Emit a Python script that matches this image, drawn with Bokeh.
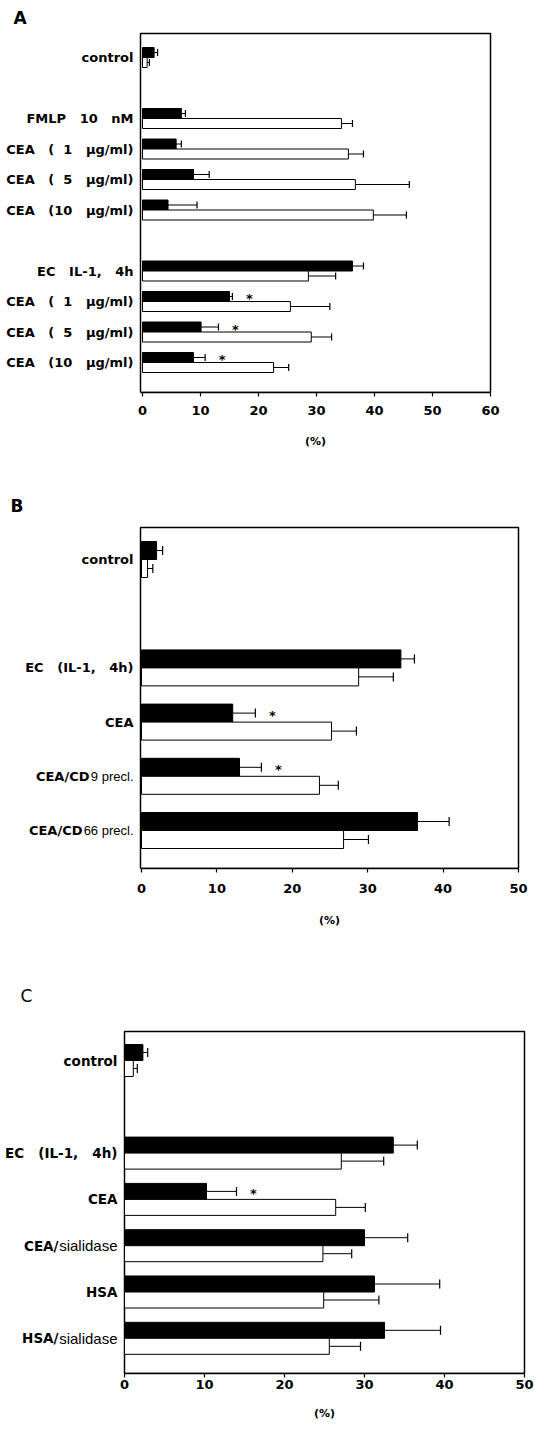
from bokeh.plotting import figure
from bokeh.models import Range1d, FixedTicker, ColumnDataSource, Whisker, TeeHead, LinearAxis
from bokeh.layouts import column
from bokeh.embed import file_html
from bokeh.resources import INLINE
from bokeh.core.properties import value

# ---------------- data ----------------
# Panel A (None = empty row)
a_rows_bold = ["control", None, "FMLP   10   nM", "CEA   (  1   µg/ml)", "CEA   (  5   µg/ml)",
               "CEA   (10   µg/ml)", None, "EC   IL-1,   4h", "CEA   (  1   µg/ml)",
               "CEA   (  5   µg/ml)", "CEA   (10   µg/ml)"]
a_rows_plain = ["", None, "", "", "", "", None, "", "", "", ""]
a_black = [2.0, 6.7, 5.8, 8.8, 4.4, 36.2, 15.0, 10.1, 8.8]
a_black_err = [2.6, 7.4, 6.7, 11.5, 9.4, 38.1, 15.5, 13.1, 10.8]
a_white = [0.8, 34.3, 35.5, 36.7, 39.8, 28.6, 25.5, 29.1, 22.6]
a_white_err = [1.2, 36.2, 38.1, 46.0, 45.5, 33.3, 32.3, 32.6, 25.2]
a_star = [False, False, False, False, False, False, True, True, True]
a_ticks = [0, 10, 20, 30, 40, 50, 60]

# Panel B
b_rows_bold = ["control", None, "EC   (IL-1,   4h)", "CEA", "CEA/CD", "CEA/CD"]
b_rows_plain = ["", None, "", "", "9 precl.", "66 precl."]
b_black = [2.0, 34.4, 12.1, 13.0, 36.6]
b_black_err = [2.8, 36.2, 15.1, 15.9, 40.8]
b_white = [0.8, 28.8, 25.2, 23.6, 26.8]
b_white_err = [1.5, 33.4, 28.5, 26.1, 30.1]
b_star = [False, False, True, True, False]
b_ticks = [0, 10, 20, 30, 40, 50]

# Panel C
c_rows_bold = ["control", None, "EC   (IL-1,   4h)", "CEA", "CEA/", "HSA", "HSA/"]
c_rows_plain = ["", None, "", "", "sialidase", "", "sialidase"]
c_black = [2.3, 33.6, 10.25, 30.0, 31.25, 32.5]
c_black_err = [2.9, 36.6, 14.0, 35.4, 39.4, 39.5]
c_white = [1.1, 27.1, 26.4, 24.8, 24.9, 25.6]
c_white_err = [1.6, 32.4, 30.1, 28.4, 31.8, 29.5]
c_star = [False, False, True, False, False, False]
c_ticks = [0, 10, 20, 30, 40, 50]

BOLD = "DejaVu Sans"
PLAIN = "Liberation Sans"
FRAME_RIGHT = 527  # px, common right edge of the drawing area
NB = lambda s: s.replace(" ", "\u00a0")  # keep the wide spacing of the original


def panel(letter, rows_bold, rows_plain, black, black_err, white, white_err, star, ticks,
          fig_h, box, zero_px, ppu, first_px, pitch, bar_px, cap,
          label_size, plain_size, plain_widths, letter_x, letter_style, letter_standoff,
          tick_standoff, pct_standoff):
    bl, br, bt, bb = box
    slots = [i for i, r in enumerate(rows_bold) if r is not None]
    xv = lambda px: (px - zero_px) / ppu
    yv = lambda py: (py - first_px) / pitch
    bar_h = bar_px / pitch

    p = figure(width=535, height=fig_h, output_backend="svg", toolbar_location=None,
               x_range=Range1d(xv(0), xv(FRAME_RIGHT)),
               y_range=Range1d(yv(bb), yv(bt - 3)),
               min_border_left=0, min_border_right=535 - FRAME_RIGHT,
               min_border_top=bt - 3, min_border_bottom=fig_h - bb)
    p.background_fill_color = "white"
    p.border_fill_color = "white"
    p.outline_line_color = None
    p.xgrid.visible = False
    p.ygrid.visible = False
    p.yaxis.visible = False

    ax = p.xaxis[0]
    ax.bounds = (xv(bl), xv(br))
    ax.ticker = FixedTicker(ticks=ticks)
    ax.major_tick_in = 0
    ax.major_tick_out = 4
    ax.minor_tick_in = 0
    ax.minor_tick_out = 0
    ax.axis_line_width = 1.5
    ax.axis_line_color = "black"
    ax.major_tick_line_width = 1.2
    ax.major_tick_line_color = "black"
    ax.major_label_text_font = BOLD
    ax.major_label_text_font_style = "bold"
    ax.major_label_text_font_size = "13px"
    ax.major_label_text_color = "black"
    ax.major_label_standoff = tick_standoff

    # "(%)" centred under the box, as a second axis row
    mid = (xv(bl) + xv(br)) / 2
    ax2 = LinearAxis(ticker=FixedTicker(ticks=[mid]), major_label_overrides={mid: "(%)"},
                     axis_line_color=None, major_tick_line_color=None, minor_tick_line_color=None,
                     major_tick_out=0, major_tick_in=0, minor_tick_out=0, minor_tick_in=0,
                     major_label_standoff=pct_standoff, major_label_text_font=BOLD,
                     major_label_text_font_style="bold", major_label_text_font_size="11px",
                     major_label_text_color="black")
    p.add_layout(ax2, "below")

    p.title.text = letter
    p.title.align = "left"
    p.title.offset = letter_x
    p.title.standoff = letter_standoff
    p.title.text_font = BOLD
    p.title.text_font_style = letter_style
    p.title.text_font_size = "17px"
    p.title.text_color = "black"

    # frame box
    p.quad(left=[xv(bl)], right=[xv(br)], top=[yv(bt)], bottom=[yv(bb)],
           fill_color=None, line_color="black", line_width=1.5)

    src = ColumnDataSource(dict(
        y_black=[s - bar_h / 2 for s in slots],
        y_white=[s + bar_h / 2 for s in slots],
        black=black, black_err=black_err, white=white, white_err=white_err,
    ))
    p.hbar(y="y_black", left=0, right="black", height=bar_h, source=src,
           fill_color="black", line_color="black", line_width=1)
    p.hbar(y="y_white", left=0, right="white", height=bar_h, source=src,
           fill_color="white", line_color="black", line_width=1)
    for base, lo, hi in (("y_black", "black", "black_err"), ("y_white", "white", "white_err")):
        p.add_layout(Whisker(source=src, base=base, lower=lo, upper=hi, dimension="width",
                             line_color="black", line_width=1, level="overlay",
                             lower_head=None,
                             upper_head=TeeHead(size=cap, line_color="black", line_width=1.2)))

    idx = [i for i, s in enumerate(star) if s]
    star_src = ColumnDataSource(dict(x=[black_err[i] for i in idx],
                                     y=[slots[i] - bar_h / 2 for i in idx],
                                     t=["*"] * len(idx)))
    p.text(x="x", y="y", text="t", source=star_src, x_offset=17, y_offset=2,
           text_align="center", text_baseline="middle", text_font=value(BOLD),
           text_font_style="bold", text_font_size="13px", text_color="black")

    # row labels, left of the box
    rows = [i for i, r in enumerate(rows_bold) if r is not None]
    bold_x_off, plain_rows = [], []
    for i in rows:
        pt = rows_plain[i]
        if pt:
            plain_rows.append(i)
            bold_x_off.append(-7 - plain_widths[pt] - 1)
        else:
            bold_x_off.append(-7)
    lab_src = ColumnDataSource(dict(x=[xv(bl)] * len(rows), y=rows,
                                    t=[NB(rows_bold[i]) for i in rows], off=bold_x_off))
    p.text(x="x", y="y", text="t", x_offset="off", source=lab_src, text_align="right",
           text_baseline="middle", text_font=value(BOLD), text_font_style="bold",
           text_font_size=label_size, text_color="black")
    if plain_rows:
        pl_src = ColumnDataSource(dict(x=[xv(bl)] * len(plain_rows), y=plain_rows,
                                       t=[NB(rows_plain[i]) for i in plain_rows]))
        p.text(x="x", y="y", text="t", x_offset=-7, source=pl_src, text_align="right",
               text_baseline="middle", text_font=value(PLAIN),
               text_font_size=plain_size, text_color="black")
    return p


pA = panel("A", a_rows_bold, a_rows_plain, a_black, a_black_err, a_white, a_white_err, a_star,
           a_ticks, fig_h=480, box=(140, 490, 33, 392), zero_px=142, ppu=5.8,
           first_px=57, pitch=30.5, bar_px=10, cap=7,
           label_size="13px", plain_size="12px", plain_widths={},
           letter_x=13, letter_style="bold", letter_standoff=6,
           tick_standoff=9, pct_standoff=17)

pB = panel("B", b_rows_bold, b_rows_plain, b_black, b_black_err, b_white, b_white_err, b_star,
           b_ticks, fig_h=460, box=(140, 518, 47, 388), zero_px=141, ppu=7.54,
           first_px=79, pitch=54.2, bar_px=18, cap=9,
           label_size="13px", plain_size="13px",
           plain_widths={"9 precl.": 43, "66 precl.": 50},
           letter_x=10, letter_style="bold", letter_standoff=18,
           tick_standoff=11, pct_standoff=18)

pC = panel("C", c_rows_bold, c_rows_plain, c_black, c_black_err, c_white, c_white_err, c_star,
           c_ticks, fig_h=493, box=(124, 524, 91, 433), zero_px=124, ppu=8.0,
           first_px=120, pitch=46.3, bar_px=16, cap=9,
           label_size="13.5px", plain_size="15px",
           plain_widths={"sialidase": 58},
           letter_x=20, letter_style="normal", letter_standoff=46,
           tick_standoff=2, pct_standoff=15)

layout = column(pA, pB, pC, spacing=0)
open("out.html", "w").write(file_html(layout, INLINE))
